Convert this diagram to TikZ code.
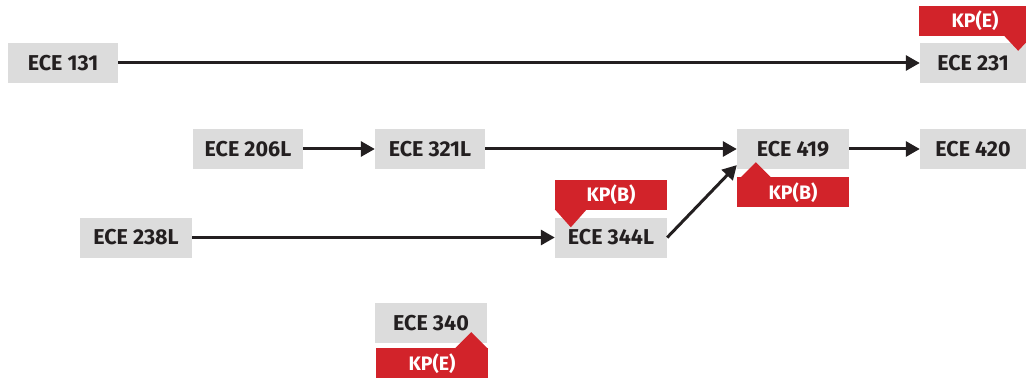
\documentclass[tikz,border=0pt]{standalone}
\usepackage{fontspec}
\setmainfont{Fira Sans}
\usepackage{xcolor}
\usetikzlibrary{arrows.meta, positioning}
\definecolor{boxgray}{HTML}{DCDCDC}
\definecolor{kpred}{HTML}{D2232A}
\definecolor{inkdark}{HTML}{231F20}

\begin{document}
\begin{tikzpicture}[
    x=1pt, y=1pt,
    every node/.style={align=center},
    course/.style={fill=boxgray, inner sep=0pt, minimum width=110pt, minimum height=40pt,
        text=inkdark, font=\fontsize{21.5}{24}\selectfont\bfseries},
    tag/.style={fill=kpred, inner sep=0pt, minimum width=112pt, minimum height=30pt,
        text=white, font=\fontsize{19.5}{22}\selectfont\bfseries},
    arrow/.style={-{Triangle[length=14pt,width=15pt]}, line width=3pt, inkdark},
]
\clip (0,0) rectangle (1026,381);

% --- Course boxes
\node[course] (ece131)  at (63,318)  {ECE 131};
\node[course, minimum width=106pt] (ece231) at (973,318) {ECE 231};
\node[course] (ece206l) at (248,232) {ECE 206L};
\node[course] (ece321l) at (430,232) {ECE 321L};
\node[course, minimum width=112pt] (ece419) at (793,232) {ECE 419};
\node[course, minimum width=106pt] (ece420) at (973,232) {ECE 420};
\node[course, minimum width=112pt] (ece238l) at (136,143.5) {ECE 238L};
\node[course, minimum width=112pt] (ece344l) at (611,143.5) {ECE 344L};
\node[course, minimum width=112pt] (ece340)  at (431,58)  {ECE 340};

% --- KP tags with pointers
\node[tag, above=7pt of ece231, xshift=2pt] (tag231) {KP(E)};
\fill[kpred] ([yshift=1pt]tag231.south east) ++(-28,0) -- ++(30,0) -- ++(-15,-16) -- cycle;

\node[tag, above=7pt of ece344l] (tag344) {KP(B)};
\fill[kpred] ([yshift=1pt]tag344.south west) -- ++(32,0) -- ++(-16,-18) -- cycle;

\node[tag, below=8pt of ece419] (tag419) {KP(B)};
\fill[kpred] ([yshift=-1pt]tag419.north west) ++(3,0) -- ++(32,0) -- ++(-16,16) -- cycle;

\node[tag, below=5pt of ece340, xshift=1pt] (tag340) {KP(E)};
\fill[kpred] ([yshift=-1pt]tag340.north east) -- ++(-34,0) -- ++(17,17) -- cycle;

% --- Arrows
\draw[arrow] (ece131)  -- (ece231);
\draw[arrow] (ece206l) -- (ece321l);
\draw[arrow] (ece321l) -- (ece419);
\draw[arrow] (ece419)  -- (ece420);
\draw[arrow] (ece238l) -- (ece344l);
\draw[arrow] (ece344l.east) -- (ece419.196);

\end{tikzpicture}
\end{document}
